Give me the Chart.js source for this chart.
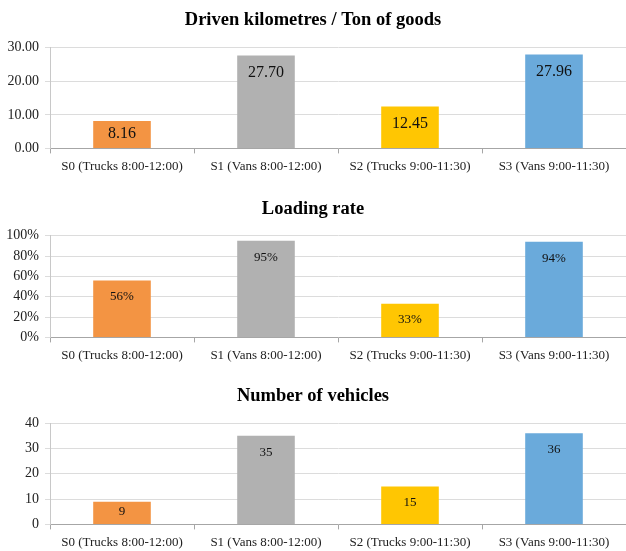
<!DOCTYPE html>
<html>
<head>
<meta charset="utf-8">
<script src="https://cdn.jsdelivr.net/npm/chart.js@4/dist/chart.umd.min.js"></script>
<style>
  html, body { margin: 0; padding: 0; background: #fff; overflow: hidden; }
  .box { position: absolute; left: 0; width: 626px; }
</style>
</head>
<body>
<div class="box" style="top:0;height:180px"><canvas id="kmChart"></canvas></div>
<div class="box" style="top:189px;height:180px"><canvas id="rateChart"></canvas></div>
<div class="box" style="top:376px;height:180px"><canvas id="vehChart"></canvas></div>
<script>
// data
const scenarios = ['S0 (Trucks 8:00-12:00)', 'S1 (Vans 8:00-12:00)', 'S2 (Trucks 9:00-11:30)', 'S3 (Vans 9:00-11:30)']
const barColors = ['#f39443', '#b1b1b1', '#ffc602', '#6aaadb']

const kmPerTon = [8.16, 27.70, 12.45, 27.96]
const kmTicks = ['0.00', '10.00', '20.00', '30.00']

const loadingRate = [56, 95, 33, 94]
const rateTicks = ['0%', '20%', '40%', '60%', '80%', '100%']

const vehicles = [9, 35, 15, 36]
const vehTicks = ['0', '10', '20', '30', '40']

const serif = '"Liberation Serif", "Times New Roman", serif'

// labels drawn inside the top of each bar
const insideLabels = {
  id: 'insideLabels',
  afterDatasetsDraw(chart, args, opts) {
    const ctx = chart.ctx
    const meta = chart.getDatasetMeta(0)
    ctx.save()
    ctx.font = opts.font
    ctx.fillStyle = '#111'
    ctx.textAlign = 'center'
    ctx.textBaseline = 'middle'
    meta.data.forEach((bar, i) => {
      const y = Math.min(bar.y + opts.offset, (bar.y + bar.base) / 2 - 1)
      ctx.fillText(opts.labels[i], bar.x, y)
    })
    ctx.restore()
  }
}

function makeChart(id, title, values, max, step, tickLabels, valueLabels, labelFont, labelOffset, titlePadBottom) {
  return new Chart(document.getElementById(id), {
    type: 'bar',
    data: {
      labels: scenarios,
      datasets: [{
        data: values,
        backgroundColor: barColors,
        categoryPercentage: 1,
        barPercentage: 0.4
      }]
    },
    options: {
      responsive: true,
      maintainAspectRatio: false,
      animation: false,
      layout: { padding: { top: 0, left: 0, right: 0, bottom: 1 } },
      plugins: {
        legend: { display: false },
        tooltip: { enabled: false },
        title: {
          display: true,
          text: title,
          color: '#000',
          font: { family: serif, size: 18.5, weight: 'bold' },
          padding: { top: 9, bottom: titlePadBottom }
        },
        insideLabels: { labels: valueLabels, font: labelFont, offset: labelOffset }
      },
      scales: {
        x: {
          offset: true,
          grid: { display: true, drawOnChartArea: false, offset: true, tickLength: 5, color: '#a6a6a6' },
          border: { color: '#a6a6a6' },
          ticks: { color: '#222', padding: 5, maxRotation: 0, font: { family: serif, size: 13 } }
        },
        y: {
          min: 0,
          max: max,
          afterFit: s => { s.width = 50 },
          grid: { color: '#dcdcdc', tickLength: 5 },
          border: { color: '#c8c8c8' },
          ticks: {
            stepSize: step,
            padding: 6,
            color: '#222',
            font: { family: serif, size: 14 },
            callback: (v, i) => tickLabels[i]
          }
        }
      }
    },
    plugins: [insideLabels]
  })
}

makeChart('kmChart', 'Driven kilometres / Ton of goods', kmPerTon, 30, 10, kmTicks,
  kmPerTon.map(v => v.toFixed(2)), '16px ' + serif, 17.5, 16.5)
makeChart('rateChart', 'Loading rate', loadingRate, 100, 20, rateTicks,
  loadingRate.map(v => v + '%'), '13px ' + serif, 16.5, 15.5)
makeChart('vehChart', 'Number of vehicles', vehicles, 40, 10, vehTicks,
  vehicles.map(v => String(v)), '13px ' + serif, 16.5, 16)
</script>
</body>
</html>
